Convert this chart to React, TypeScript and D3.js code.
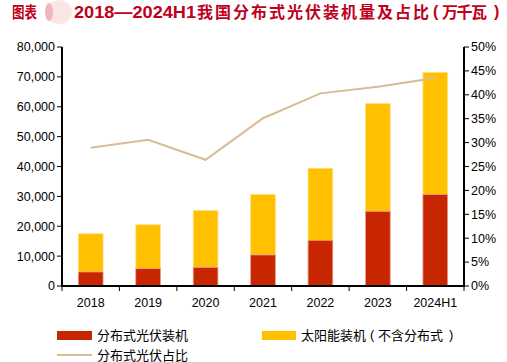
import React from 'react';
import * as d3 from 'd3';

// data (万千瓦)
const years = ['2018', '2019', '2020', '2021', '2022', '2023', '2024H1'];
const distributed = [4700, 5800, 6250, 10400, 15300, 25000, 30600];
const totalSolar = [17500, 20500, 25300, 30700, 39400, 61100, 71500];
const sharePct = [28.9, 30.6, 26.4, 35.1, 40.3, 41.7, 43.5];
const leftTicks = [0, 10000, 20000, 30000, 40000, 50000, 60000, 70000, 80000];
const rightTicks = [0, 5, 10, 15, 20, 25, 30, 35, 40, 45, 50];

const W = 507;
const H = 362;
const margin = { top: 47, right: 43, bottom: 76, left: 62 };
const RED = '#C82600';
const YELLOW = '#FFC000';
const LINE = '#D9BC96';
const FONT = '"Liberation Sans", Arial, "Noto Sans CJK SC", sans-serif';

const App = () => {
  const innerW = W - margin.left - margin.right;
  const innerH = H - margin.top - margin.bottom;

  const x = d3.scaleBand().domain(years).range([0, innerW]).paddingInner(0.57).paddingOuter(0.285);
  const band = d3.scaleBand().domain(years).range([0, innerW]);
  const yL = d3.scaleLinear().domain([0, 80000]).range([innerH, 0]);
  const yR = d3.scaleLinear().domain([0, 50]).range([innerH, 0]);
  const fmt = d3.format(',');

  const line = d3
    .line<number>()
    .x((_, i) => (band(years[i]) as number) + band.bandwidth() / 2)
    .y((d) => yR(d));

  return (
    <svg width={W} height={H} style={{ position: 'absolute', left: 0, top: 0, background: '#fff' }} fontFamily={FONT}>
      {/* title */}
      <g fontWeight="bold" fill="#C0001C" fontSize={16}>
        <text x={12} y={18} textLength={25} lengthAdjust="spacingAndGlyphs">图表</text>
        <ellipse cx={59} cy={12} rx={13} ry={12} fill="#FBE6E6" />
        <ellipse cx={49} cy={12} rx={4} ry={9} fill="#EBAAAA" opacity={0.8} />
        <text x={74} y={18} textLength={122} lengthAdjust="spacingAndGlyphs">2018—2024H1</text>
        <text x={197} y={18} textLength={232} lengthAdjust="spacing">我国分布式光伏装机量及占比</text>
        <text x={433} y={17}>(</text>
        <text x={442} y={18} textLength={45} lengthAdjust="spacing">万千瓦</text>
        <text x={494} y={17}>)</text>
      </g>

      <g transform={`translate(${margin.left},${margin.top})`}>
        {/* bars */}
        {years.map((yr, i) => (
          <g key={yr}>
            <rect
              x={x(yr)}
              y={yL(totalSolar[i])}
              width={x.bandwidth()}
              height={yL(distributed[i]) - yL(totalSolar[i])}
              fill={YELLOW}
              stroke="#FFE08A"
              strokeWidth={0.8}
            />
            <rect
              x={x(yr)}
              y={yL(distributed[i])}
              width={x.bandwidth()}
              height={innerH - yL(distributed[i])}
              fill={RED}
              stroke="#E89A8A"
              strokeWidth={0.8}
            />
          </g>
        ))}

        {/* share line */}
        <path d={line(sharePct) || ''} fill="none" stroke={LINE} strokeWidth={2} />

        {/* left axis */}
        <line x1={0} x2={0} y1={0} y2={innerH} stroke="#000" strokeWidth={2} />
        {leftTicks.map((t) => (
          <g key={t} transform={`translate(0,${yL(t)})`}>
            <line x1={-5} x2={0} stroke="#000" strokeWidth={1} />
            <text x={-7} dy="0.35em" textAnchor="end" fontSize={12.5} fill="#000">
              {fmt(t)}
            </text>
          </g>
        ))}

        {/* right axis */}
        <line x1={innerW} x2={innerW} y1={0} y2={innerH} stroke="#000" strokeWidth={2} />
        {rightTicks.map((t) => (
          <g key={t} transform={`translate(${innerW},${yR(t)})`}>
            <line x1={0} x2={5} stroke="#000" strokeWidth={1} />
            <text x={7} dy="0.35em" fontSize={12.5} fill="#000">
              {t}%
            </text>
          </g>
        ))}

        {/* bottom axis */}
        <line x1={-1} x2={innerW + 1} y1={innerH} y2={innerH} stroke="#000" strokeWidth={2} />
        {years.map((yr) => (
          <line key={'t' + yr} x1={band(yr)} x2={band(yr)} y1={innerH} y2={innerH + 5} stroke="#000" strokeWidth={1} />
        ))}
        <line x1={innerW} x2={innerW} y1={innerH} y2={innerH + 5} stroke="#000" strokeWidth={1} />
        {years.map((yr) => (
          <text
            key={'l' + yr}
            x={(band(yr) as number) + band.bandwidth() / 2}
            y={innerH + 21}
            textAnchor="middle"
            fontSize={12.5}
            fill="#000"
          >
            {yr}
          </text>
        ))}
      </g>

      {/* legend */}
      <g fontSize={13} fill="#000">
        <rect x={57} y={331} width={35} height={9} fill={RED} />
        <text x={97} y={340}>分布式光伏装机</text>
        <rect x={262} y={331} width={34} height={9} fill={YELLOW} />
        <text x={301} y={340}>太阳能装机</text>
        <text x={370} y={339}>(</text>
        <text x={378} y={340}>不含分布式</text>
        <text x={449} y={339}>)</text>
        <line x1={57} x2={92} y1={355} y2={355} stroke={LINE} strokeWidth={2} />
        <text x={97} y={360}>分布式光伏占比</text>
      </g>
    </svg>
  );
};

export default App;
